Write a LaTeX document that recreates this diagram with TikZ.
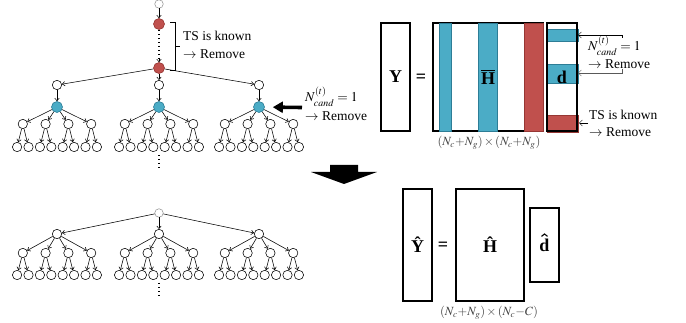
\documentclass[tikz,border=0pt]{standalone}
\usepackage{mathptmx}
\usepackage{fontspec}
\setmainfont{Liberation Serif}
\usetikzlibrary{arrows.meta}

\definecolor{tsred}{RGB}{192,80,77}
\definecolor{tsredd}{RGB}{150,55,52}
\definecolor{candblue}{RGB}{75,172,198}
\definecolor{candblued}{RGB}{45,125,150}

\tikzset{
  wn/.style={circle,draw,line width=0.55pt,fill=white,inner sep=0pt,minimum size=9.4pt},
  rootn/.style={circle,draw=black!45,line width=0.5pt,fill=white,inner sep=0pt,minimum size=8.5pt},
  redn/.style={circle,draw=tsredd,line width=0.6pt,fill=tsred,inner sep=0pt,minimum size=11pt},
  bluen/.style={circle,draw=candblued,line width=0.6pt,fill=candblue,inner sep=0pt,minimum size=11pt},
  edge/.style={line width=0.55pt,-{Straight Barb[length=2.6pt,width=4.4pt]}},
  thinarrow/.style={line width=0.5pt,-{Straight Barb[length=3pt,width=6pt]}},
  matbox/.style={draw,line width=1.7pt,inner sep=0pt},
  bluebar/.style={fill=candblue,draw=candblued,line width=0.8pt},
  redbar/.style={fill=tsred,draw=tsredd,line width=0.8pt},
  note/.style={inner sep=0pt,anchor=base west,font=\fontsize{13.5}{15}\selectfont},
  matlabel/.style={inner sep=0pt,font=\fontsize{18}{20}\selectfont\bfseries},
  dimlabel/.style={inner sep=0pt,text=black!75,font=\fontsize{12.5}{14}\selectfont},
  vdots/.style={line width=1.4pt,dash pattern=on 1.4pt off 2.6pt},
  hatmark/.style={line width=1.1pt,line join=miter}
}

\begin{document}
\begin{tikzpicture}[x=1pt,y=-1pt]
\useasboundingbox (0,0) rectangle (686,323);

% ---------------- upper search tree ----------------
\node[rootn] (t0) at (159,4) {};
\node[redn] (t1) at (159,24) {};
\node[redn] (t2) at (159,68) {};
\draw[edge] (t0) -- (t1);
\coordinate (t1b) at (159,58);
\draw[vdots] (t1.south) -- (t1b);
\draw[edge] (t1b) -- (t2);

\foreach \i/\cx in {1/57,2/159,3/259} {
  \node[wn] (c\i) at (\cx,85) {};
  \node[bluen] (b\i) at (\cx,107) {};
  \draw[edge] (t2) -- (c\i);
  \draw[edge] (c\i) -- (b\i);
  \foreach \j in {1,...,4} {
    \pgfmathsetmacro\gx{\cx+(\j-2.5)*22.8}
    \node[wn] (g\i\j) at (\gx,124) {};
    \draw[edge] (b\i) -- (g\i\j);
    \foreach \k in {1,2} {
      \pgfmathsetmacro\lx{\gx+(\k-1.5)*11.4}
      \node[wn] (l\i\j\k) at (\lx,147) {};
      \draw[edge] (g\i\j) -- (l\i\j\k);
    }
  }
}
\draw[vdots] (159,155) -- (159,168);

% bracket over the known chain
\draw[line width=0.6pt] (170,22) -- (175,22) -- (175,70) -- (170,70);
\draw[line width=0.6pt] (175,46) -- (180,46);
\node[note] (tsA) at (183,41) {TS is known};
\node[note] (rmA) at (183,59) {$\rightarrow$ Remove};

% pointer to the single-candidate node
\coordinate (pa) at (302,107.5);
\draw[line width=3.6pt,-{Triangle[length=10pt,width=11pt]},shorten >=8pt] (pa) -- (b3);
\node[note] (ncA) at (305,102) {$N^{(t)}_{cand}=1$};
\node[note] (rmB) at (305,121) {$\rightarrow$ Remove};

% ---------------- upper matrix equation ----------------
\node[matbox,minimum width=29pt,minimum height=108pt,matlabel] (Y) at (395.5,77) {Y};
\node[matlabel] (eqA) at (421,78) {=};
\node[matbox,minimum width=110pt,minimum height=108pt] (H) at (488,77) {};
\draw[bluebar] (439,23) rectangle (451,131);
\draw[bluebar] (478,23) rectangle (497,131);
\draw[redbar] (524,23) rectangle (543,131);
\node[matlabel] (Hlab) at (488,77) {$\overline{\hbox{\bfseries H}}$};

\draw[bluebar] (547,29) rectangle (578,41);
\draw[bluebar] (547,64) rectangle (578,83);
\draw[redbar] (547,115) rectangle (578,132);
\node[matbox,minimum width=30pt,minimum height=108pt,matlabel] (D) at (562,77) {d};

\node[dimlabel] (dimA) at (489,143) {$(N_c{+}N_g)\,{\times}\,(N_c{+}N_g)$};

% annotations of the removed entries
\coordinate (ra1) at (622,38);
\coordinate (ra2) at (622,69);
\coordinate (da1) at (578,35);
\coordinate (da2) at (578,73);
\coordinate (ra3) at (588,123);
\coordinate (da3) at (579,123);
\draw[thinarrow] (ra1) -- (622,35) -- (da1);
\draw[thinarrow,draw=black!65] (ra2) -- (622,73) -- (da2);
\draw[thinarrow] (ra3) -- (da3);
\node[note] (ncB) at (588,51) {$N^{(t)}_{cand}=1$};
\node[note] (rmC) at (588,69) {$\rightarrow$ Remove};
\node[note] (tsB) at (589,120) {TS is known};
\node[note] (rmD) at (589,137) {$\rightarrow$ Remove};

% ---------------- transition arrow ----------------
\fill (330,165) -- (358,165) -- (358,172) -- (377,172) -- (344,184)
      -- (311,172) -- (330,172) -- cycle;

% ---------------- reduced search tree ----------------
\node[rootn] (s0) at (159,213) {};
\foreach \i/\cx in {1/57,2/159,3/259} {
  \node[wn] (sc\i) at (\cx,234) {};
  \draw[edge] (s0) -- (sc\i);
  \foreach \j in {1,...,4} {
    \pgfmathsetmacro\gx{\cx+(\j-2.5)*22.8}
    \node[wn] (sg\i\j) at (\gx,253) {};
    \draw[edge] (sc\i) -- (sg\i\j);
    \foreach \k in {1,2} {
      \pgfmathsetmacro\lx{\gx+(\k-1.5)*11.4}
      \node[wn] (sl\i\j\k) at (\lx,275) {};
      \draw[edge] (sg\i\j) -- (sl\i\j\k);
    }
  }
}
\draw[vdots] (159,283) -- (159,296);

% ---------------- reduced matrix equation ----------------
\node[matbox,minimum width=29pt,minimum height=112pt,matlabel] (Yh) at (417.5,245) {Ŷ};
\node[matlabel] (eqB) at (443,246) {=};
\node[matbox,minimum width=68pt,minimum height=112pt,matlabel] (Hh) at (490,245) {Ĥ};
\node[matbox,minimum width=29pt,minimum height=74pt,matlabel] (Dh) at (544.5,245) {d};
% circumflex over the bold d
\draw[hatmark] ([xshift=-3pt,yshift=8.6pt]Dh.center) -- ([yshift=11pt]Dh.center)
  -- ([xshift=3pt,yshift=8.6pt]Dh.center);
\node[dimlabel] (dimB) at (489,313) {$(N_c{+}N_g)\,{\times}\,(N_c{-}C)$};
\end{tikzpicture}
\end{document}
